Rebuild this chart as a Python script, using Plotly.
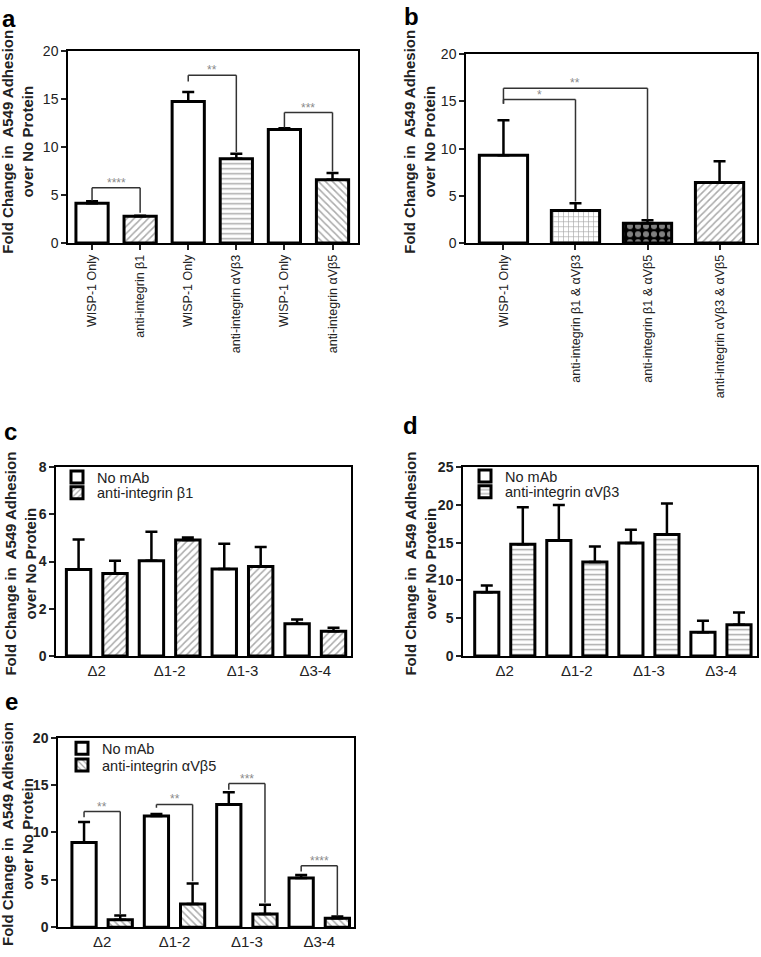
import plotly.graph_objects as go

# ---------------- data ----------------
a_labels = ["WISP-1 Only", "anti-integrin β1", "WISP-1 Only", "anti-integrin αVβ3",
            "WISP-1 Only", "anti-integrin αVβ5"]
a_vals = [4.15, 2.8, 14.75, 8.8, 11.85, 6.6]
a_err = [0.2, 0.05, 1.0, 0.5, 0.12, 0.7]

b_labels = ["WISP-1 Only", "anti-integrin β1 & αVβ3", "anti-integrin β1 & αVβ5",
            "anti-integrin αVβ3 & αVβ5"]
b_vals = [9.3, 3.45, 2.1, 6.4]
b_err = [3.7, 0.75, 0.3, 2.25]

groups = ["Δ2", "Δ1-2", "Δ1-3", "Δ3-4"]

c_nomab = [3.66, 4.04, 3.69, 1.37]
c_nomab_err = [1.28, 1.22, 1.07, 0.18]
c_anti = [3.5, 4.91, 3.79, 1.05]
c_anti_err = [0.54, 0.11, 0.83, 0.15]

d_nomab = [8.43, 15.3, 14.95, 3.15]
d_nomab_err = [0.9, 4.7, 1.75, 1.52]
d_anti = [14.8, 12.45, 16.1, 4.15]
d_anti_err = [4.9, 2.05, 4.1, 1.6]

e_nomab = [8.95, 11.74, 12.95, 5.2]
e_nomab_err = [2.15, 0.21, 1.28, 0.33]
e_anti = [0.8, 2.45, 1.42, 0.97]
e_anti_err = [0.44, 2.18, 0.96, 0.17]

# significance brackets: (left x, right x, top y, left leg end, right leg end, label)
a_sig = [(0, 1, 5.75, 4.4, 3.15, "****"),
         (2, 3, 17.5, 16.85, 9.5, "**"),
         (4, 5, 13.6, 12.05, 7.45, "***")]
b_sig = [(0, 1, 15.2, 14.75, 4.4, "*"),
         (0, 2, 16.4, 14.75, 2.5, "**")]
e_sig = [(-0.25, 0.25, 12.2, 11.6, 1.4, "**"),
         (0.75, 1.25, 12.95, 12.6, 4.87, "**"),
         (1.75, 2.25, 15.15, 14.5, 2.6, "***"),
         (2.75, 3.25, 6.5, 5.9, 1.17, "****")]

# ---------------- styling ----------------
W, H = 761, 957
FONT = "Liberation Sans, Arial, sans-serif"
HATCH = "#555555"


def px_x(v):
    return v / W


def px_y(v):
    return 1 - v / H


def err(vals):
    return dict(type="data", array=vals, arrayminus=[0] * len(vals), symmetric=False,
                color="black", thickness=2.5, width=6, visible=True)


fig = go.Figure()

# panel a
fig.add_trace(go.Bar(
    x=list(range(len(a_vals))), y=a_vals, error_y=err(a_err), showlegend=False,
    marker=dict(color="white", line=dict(color="black", width=3),
                pattern=dict(shape=["", "/", "", "-", "", "\\"], fgcolor=HATCH,
                             bgcolor="white", size=5, solidity=0.3)),
    xaxis="x", yaxis="y"))

# panel b
fig.add_trace(go.Bar(
    x=list(range(len(b_vals))), y=b_vals, error_y=err(b_err), showlegend=False,
    marker=dict(color="white", line=dict(color="black", width=3),
                pattern=dict(shape=["", "+", ".", "/"],
                             fgcolor=[HATCH, HATCH, "white", HATCH],
                             bgcolor=["white", "white", "black", "white"],
                             size=[5, 5, 8, 5], solidity=[0.3, 0.25, 0.45, 0.3])),
    xaxis="x2", yaxis="y2"))

gx = list(range(len(groups)))


def pair(nomab, nomab_err, anti, anti_err, anti_name, shape, ax, ay, leg1, leg2):
    fig.add_trace(go.Bar(
        x=gx, y=nomab, error_y=err(nomab_err), name="No mAb", legend=leg1,
        marker=dict(color="white", line=dict(color="black", width=3)),
        xaxis=ax, yaxis=ay, offsetgroup=ax + "a"))
    fig.add_trace(go.Bar(
        x=gx, y=anti, error_y=err(anti_err), name=anti_name, legend=leg2,
        marker=dict(color="white", line=dict(color="black", width=3),
                    pattern=dict(shape=shape, fgcolor=HATCH, bgcolor="white",
                                 size=5, solidity=0.3)),
        xaxis=ax, yaxis=ay, offsetgroup=ax + "b"))


pair(c_nomab, c_nomab_err, c_anti, c_anti_err, "anti-integrin β1", "/", "x3", "y3",
     "legend", "legend2")
pair(d_nomab, d_nomab_err, d_anti, d_anti_err, "anti-integrin αVβ3", "-", "x4", "y4",
     "legend3", "legend4")
pair(e_nomab, e_nomab_err, e_anti, e_anti_err, "anti-integrin αVβ5", "\\", "x5", "y5",
     "legend5", "legend6")

# brackets
shapes = []
annotations = []
for sig, ax, ay in [(a_sig, "x", "y"), (b_sig, "x2", "y2"), (e_sig, "x5", "y5")]:
    for x1, x2, yt, yl, yr, lab in sig:
        ln = dict(color="#333333", width=1.5)
        shapes.append(dict(type="line", xref=ax, yref=ay, x0=x1, x1=x1, y0=yl, y1=yt, line=ln))
        shapes.append(dict(type="line", xref=ax, yref=ay, x0=x1, x1=x2, y0=yt, y1=yt, line=ln))
        shapes.append(dict(type="line", xref=ax, yref=ay, x0=x2, x1=x2, y0=yt, y1=yr, line=ln))
        annotations.append(dict(xref=ax, yref=ay, x=(x1 + x2) / 2, y=yt, text=lab,
                                showarrow=False, yanchor="bottom", yshift=-4,
                                font=dict(family=FONT, size=12, color="#8a8a8a")))

# panel geometry (pixels: left, right, top, bottom)
panels = {
    "": (68, 358, 44, 239),
    "2": (466, 757, 47, 239),
    "3": (56, 351, 467, 659),
    "4": (463, 757, 467, 659),
    "5": (58, 354, 742, 935),
}
xranges = {"": [-0.5, 5.53], "2": [-0.52, 3.52], "3": [-0.56, 3.49],
           "4": [-0.58, 3.5], "5": [-0.61, 3.48]}
yranges = {"": [0, 20], "2": [0, 20], "3": [0, 8], "4": [0, 25], "5": [0, 20]}
ydt = {"": 5, "2": 5, "3": 2, "4": 5, "5": 5}
xticks = {"": a_labels, "2": b_labels, "3": groups, "4": groups, "5": groups}

layout = dict(width=W, height=H, margin=dict(l=0, r=0, t=0, b=0),
              paper_bgcolor="white", plot_bgcolor="white",
              barmode="group", bargap=0.0, bargroupgap=0.33,
              font=dict(family=FONT, color="#222222"))

for k, (l, r, t, b) in panels.items():
    rotated = k in ("", "2")
    layout["xaxis" + k] = dict(
        domain=[px_x(l), px_x(r)], anchor="y" + k, range=xranges[k],
        tickmode="array", tickvals=list(range(len(xticks[k]))), ticktext=xticks[k],
        tickangle=-90 if rotated else 0,
        ticks="outside" if rotated else "", ticklen=5, tickwidth=1.5, tickcolor="#222",
        tickfont=dict(family=FONT, size=12.5 if rotated else 15, color="#222"),
        showline=True, linecolor="black", linewidth=1.5, mirror=True,
        showgrid=False, zeroline=False)
    layout["yaxis" + k] = dict(
        domain=[px_y(b), px_y(t)], anchor="x" + k, range=yranges[k], dtick=ydt[k],
        ticks="outside", ticklen=5, tickwidth=1.5, tickcolor="#222",
        tickfont=dict(family=FONT, size=14, color="#222",
                      weight="normal" if rotated else "bold"),
        showline=True, linecolor="black", linewidth=1.5, mirror=True,
        showgrid=False, zeroline=False)

# legends: one entry each so rows can sit as tightly as in the original
leg_common = dict(xanchor="left", yanchor="middle", bgcolor="rgba(0,0,0,0)", borderwidth=0,
                  font=dict(family=FONT, size=14.5, color="#222"))
for name, lx, ly in [("legend", 57, 477), ("legend2", 57, 493),
                     ("legend3", 465, 476), ("legend4", 465, 492),
                     ("legend5", 62, 753), ("legend6", 62, 770)]:
    layout[name] = dict(leg_common, x=px_x(lx), y=px_y(ly))

# y-axis titles
ytitle = "Fold Change in  A549 Adhesion<br>over No Protein"
for cx, cy in [(18, 136), (420, 136), (21, 565), (421, 565), (18, 840)]:
    annotations.append(dict(xref="paper", yref="paper", x=px_x(cx), y=px_y(cy),
                            text=ytitle, textangle=-90, showarrow=False,
                            xanchor="center", yanchor="middle",
                            font=dict(family=FONT, size=15, color="#222", weight="bold")))

# panel letters
for lab, cx, cy in [("a", 9, 11), ("b", 411, 9), ("c", 10, 431), ("d", 410, 425), ("e", 11, 705)]:
    annotations.append(dict(xref="paper", yref="paper", x=px_x(cx), y=px_y(cy), text=lab,
                            showarrow=False, xanchor="center", yanchor="middle",
                            font=dict(family=FONT, size=24, color="black", weight="bold")))

layout["shapes"] = shapes
layout["annotations"] = annotations
fig.update_layout(**layout)

fig.write_html("out.html", config={"displayModeBar": False},
               post_script="document.body.style.margin='0';document.body.style.overflow='hidden';")
